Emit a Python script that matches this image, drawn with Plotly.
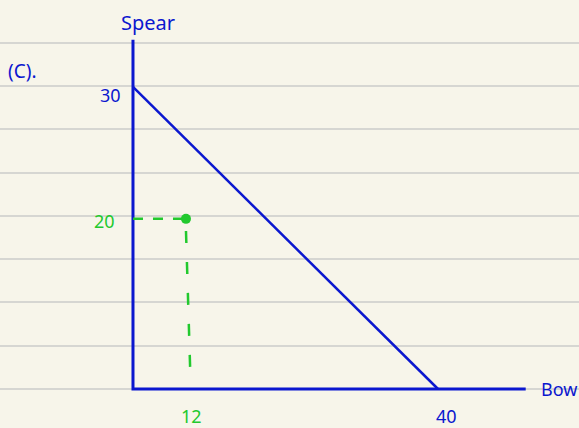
import plotly.graph_objects as go

# Budget line: Bow on x, Spear on y
line_x = [0, 40]
line_y = [30, 0]
# Chosen bundle (drawn position), labelled 12 and 20
point_x = [6.95]
point_y = [16.9]
point_labels = ["12", "20"]
axis_labels = {"x": "Bow", "y": "Spear"}
title_text = "(C)."

BLUE = "#0b17cf"
GREEN = "#22c92e"
BG = "#f7f5ea"
FONT = "Noto Sans"

fig = go.Figure()

# axes drawn as lines
fig.add_trace(go.Scatter(x=[0, 0, 51.5], y=[34.7, 0, 0], mode="lines",
                         line=dict(color=BLUE, width=3), hoverinfo="skip"))
# budget line
fig.add_trace(go.Scatter(x=line_x, y=line_y, mode="lines",
                         line=dict(color=BLUE, width=2.5), hoverinfo="skip"))
# dashed guides
fig.add_trace(go.Scatter(x=[0, point_x[0]], y=[point_y[0], point_y[0]], mode="lines",
                         line=dict(color=GREEN, width=2.5, dash="10px,10px"), hoverinfo="skip"))
fig.add_trace(go.Scatter(x=[point_x[0], point_x[0] + 0.6], y=[point_y[0] - 1.2, 0.7], mode="lines",
                         line=dict(color=GREEN, width=2.5, dash="12px,19px"), hoverinfo="skip"))
# point
fig.add_trace(go.Scatter(x=point_x, y=point_y, mode="markers",
                         marker=dict(color=GREEN, size=10), hoverinfo="skip"))

ann = [
    dict(x=0, y=34.7, text=axis_labels["y"], xanchor="left", yanchor="bottom", xshift=-14, yshift=2,
         font=dict(color=BLUE, size=20)),
    dict(x=51.5, y=0, text=axis_labels["x"], xanchor="left", yanchor="middle", xshift=13,
         font=dict(color=BLUE, size=18)),
    dict(x=0, y=30, text="30", xanchor="right", yanchor="middle", xshift=-10, yshift=-8,
         font=dict(color=BLUE, size=18)),
    dict(x=40, y=0, text="40", xanchor="center", yanchor="top", xshift=8, yshift=-13,
         font=dict(color=BLUE, size=18)),
    dict(x=0, y=point_y[0], text=point_labels[1], xanchor="right", yanchor="middle", xshift=-16, yshift=-2,
         font=dict(color=GREEN, size=18)),
    dict(x=point_x[0], y=0, text=point_labels[0], xanchor="center", yanchor="top", xshift=6, yshift=-13,
         font=dict(color=GREEN, size=18)),
    dict(x=0, y=31.6, text=title_text, xanchor="left", yanchor="middle", xref="paper", xshift=6,
         font=dict(color=BLUE, size=19)),
]
for a in ann:
    a["showarrow"] = False
    a.setdefault("xref", "x")
    a["yref"] = "y"
    a["font"]["family"] = FONT

fig.update_layout(
    width=579, height=428,
    margin=dict(l=0, r=0, t=0, b=0),
    paper_bgcolor=BG, plot_bgcolor=BG,
    showlegend=False,
    annotations=ann,
    xaxis=dict(range=[-17.44, 58.49], showgrid=False, zeroline=False, showticklabels=False,
               ticks="", fixedrange=True),
    yaxis=dict(range=[-3.874, 38.64], showgrid=True, gridcolor="#d6d6d2", gridwidth=2,
               tick0=0, dtick=4.3, zeroline=False, showticklabels=False, ticks="", fixedrange=True),
)

fig.write_html(
    "out.html",
    config={"displayModeBar": False},
    post_script="document.body.style.margin='0';document.body.style.overflow='hidden';"
                "document.body.style.background='" + BG + "';",
)
